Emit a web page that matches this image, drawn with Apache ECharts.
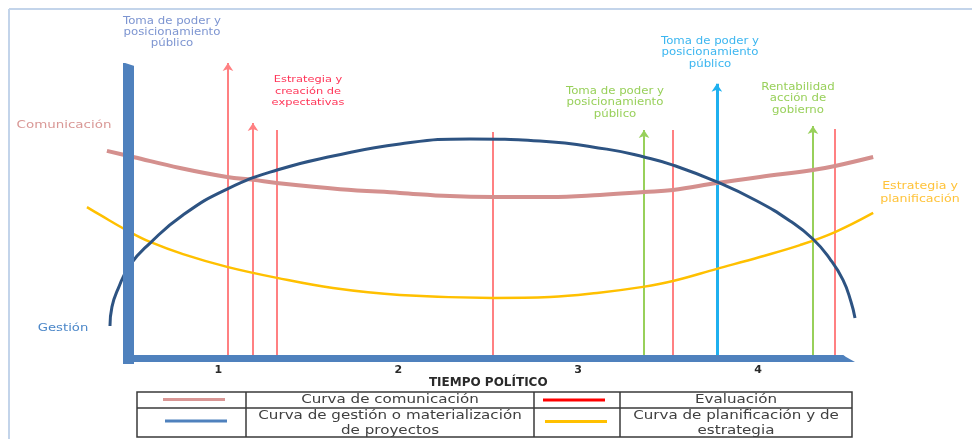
<!DOCTYPE html>
<html><head><meta charset="utf-8">
<script src="https://cdn.jsdelivr.net/npm/echarts@6/dist/echarts.min.js"></script>
<style>html,body{margin:0;padding:0;background:#fff}#c{width:972px;height:439px}</style>
</head><body><div id="c"></div>
<script>
// ---- data (x = tiempo político, 0..4 ; y = nivel, 0..100) ----
const tickLabels = ['1', '2', '3', '4'];

const comunicacionT     = [-0.120, 0.025, 0.286, 0.548, 0.692, 0.826, 1.176, 1.509, 1.787, 2.026, 2.343, 2.621, 2.866, 3.027, 3.271, 3.510, 3.805, 3.928, 4.140];
const comunicacionNivel = [71.6, 69.5, 65.7, 62.6, 61.6, 60.5, 58.4, 57.1, 56.0, 55.7, 55.7, 56.4, 57.4, 58.1, 60.5, 62.6, 65.0, 66.4, 69.5];

const gestionT     = [-0.103, -0.092, -0.058, 0.008, 0.120, 0.303, 0.548, 0.826, 1.137, 1.509, 1.898, 2.287, 2.659, 2.866, 3.027, 3.271, 3.494, 3.678, 3.805, 3.900, 3.972, 4.017, 4.039];
const gestionNivel = [11.2, 17.8, 24.0, 32.2, 39.8, 49.5, 58.4, 65.0, 69.8, 74.0, 75.7, 75.0, 72.2, 69.5, 66.7, 60.9, 54.3, 47.4, 41.2, 34.3, 27.1, 19.5, 14.0];

const planificacionT     = [-0.231, -0.158, 0.008, 0.120, 0.303, 0.548, 0.826, 1.137, 1.509, 2.026, 2.343, 2.605, 2.860, 3.027, 3.271, 3.510, 3.733, 3.928, 4.140];
const planificacionNivel = [52.2, 49.5, 43.6, 40.2, 36.0, 31.6, 27.8, 24.3, 21.9, 20.9, 21.2, 22.6, 24.7, 26.7, 30.9, 35.0, 39.1, 43.6, 50.2];

// hitos (líneas verticales)
const hitoT     = [0.553, 0.692, 0.826, 2.026, 2.866, 3.027, 3.271, 3.805, 3.928];
const hitoTope  = [101.9, 81.2, 78.8, 78.1, 78.8, 78.8, 94.7, 80.2, 79.1];
const hitoTipo  = ['evalFlecha', 'evalFlecha', 'eval', 'eval', 'verdeFlecha', 'eval', 'azulFlecha', 'verdeFlecha', 'eval'];
const hitoBase  = 0;

// ---- styles ----
const tipoColor = { eval: '#ff8082', evalFlecha: '#ff8082', verdeFlecha: '#98d05a', azulFlecha: '#1fb0ef' };
const tipoWidth = { eval: 2, evalFlecha: 2, verdeFlecha: 2, azulFlecha: 3 };

function pairs(xs, ys) { return xs.map((x, i) => [x, ys[i]]); }
function hitoData(arrow) {
  const out = [];
  hitoT.forEach((t, i) => {
    const isArrow = hitoTipo[i].indexOf('Flecha') >= 0;
    if (isArrow !== arrow) return;
    out.push({ coords: [[t, hitoBase], [t, hitoTope[i]]],
      lineStyle: { color: tipoColor[hitoTipo[i]], width: tipoWidth[hitoTipo[i]], opacity: 1 } });
  });
  return out;
}

const FONT = '"DejaVu Sans", Verdana, sans-serif';
const notes = [
  { lines: ['Toma de poder y', 'posicionamiento', 'público'], x: 172, y: 21, dy: 11, color: '#7d95d1', size: 9.8 },
  { lines: ['Estrategia y', 'creación de', 'expectativas'], x: 308, y: 80, dy: 11.5, color: '#ff3457', size: 9.5 },
  { lines: ['Toma de poder y', 'posicionamiento', 'público'], x: 615, y: 91, dy: 11.5, color: '#98d05a', size: 9.8 },
  { lines: ['Toma de poder y', 'posicionamiento', 'público'], x: 710, y: 41, dy: 11.5, color: '#3cb6f0', size: 9.8 },
  { lines: ['Rentabilidad', 'acción de', 'gobierno'], x: 798, y: 87, dy: 11.5, color: '#98d05a', size: 9.8 },
  { lines: ['Comunicación'], x: 64, y: 125, dy: 0, color: '#d99896', size: 11.2 },
  { lines: ['Gestión'], x: 63, y: 328, dy: 0, color: '#4a86c8', size: 11 },
  { lines: ['Estrategia y', 'planificación'], x: 920, y: 186, dy: 13, color: '#ffc33a', size: 10.5 }
];

const graphics = [];
// marco exterior
graphics.push({ type: 'line', shape: { x1: 9, y1: 9, x2: 972, y2: 9 }, style: { stroke: '#c3d4ea', lineWidth: 2 } });
graphics.push({ type: 'line', shape: { x1: 9, y1: 9, x2: 9, y2: 439 }, style: { stroke: '#c3d4ea', lineWidth: 2 } });
// bisel de los ejes (extremo derecho del eje X y parte superior del eje Y)
graphics.push({ type: 'polygon', z: 30, shape: { points: [[840, 355], [842.5, 355], [855, 362], [840, 362]] }, style: { fill: '#4f81bd' } });
graphics.push({ type: 'polygon', z: 30, shape: { points: [[122, 62], [136, 62], [136, 66.5]] }, style: { fill: '#ffffff' } });

function txt(s, x, y, color, size, sx, weight) {
  graphics.push({ type: 'text', x: x, y: y, scaleX: sx || 1.2, z: 20,
    style: { text: s, x: 0, y: 0, fill: color, font: (weight || 'normal') + ' ' + size + 'px ' + FONT,
      textAlign: 'center', textVerticalAlign: 'middle' } });
}
notes.forEach(n => n.lines.forEach((l, i) => txt(l, n.x, n.y + i * n.dy, n.color, n.size)));

// tabla de leyenda
const T = { x1: 137, x2: 852, y1: 392, ym: 408, y2: 437, c1: 246, c2: 534, c3: 620 };
const ls = { stroke: '#3a3a3a', lineWidth: 1.5 };
graphics.push({ type: 'rect', shape: { x: T.x1, y: T.y1, width: T.x2 - T.x1, height: T.y2 - T.y1 }, style: { fill: 'none', stroke: '#3a3a3a', lineWidth: 1.5 } });
graphics.push({ type: 'line', shape: { x1: T.x1, y1: T.ym, x2: T.x2, y2: T.ym }, style: ls });
[T.c1, T.c2, T.c3].forEach(c => graphics.push({ type: 'line', shape: { x1: c, y1: T.y1, x2: c, y2: T.y2 }, style: ls }));
const legendRows = [
  { color: '#d99694', sx: 163, y: 399.5, text: ['Curva de comunicación'], tx: 390 },
  { color: '#4f81bd', sx: 165, y: 421, text: ['Curva de gestión o materialización', 'de proyectos'], tx: 390 },
  { color: '#ff0000', sx: 543, y: 400, text: ['Evaluación'], tx: 736 },
  { color: '#ffc000', sx: 545, y: 421.5, text: ['Curva de planificación y de', 'estrategia'], tx: 736 }
];
legendRows.forEach(r => {
  graphics.push({ type: 'line', shape: { x1: r.sx, y1: r.y, x2: r.sx + 62, y2: r.y }, style: { stroke: r.color, lineWidth: 3 } });
  if (r.text.length === 1) txt(r.text[0], r.tx, 400, '#404040', 12.6, 1.2);
  else { txt(r.text[0], r.tx, 415.5, '#404040', 12.6, 1.2); txt(r.text[1], r.tx, 430.5, '#404040', 12.6, 1.2); }
});

// same scale in both grids: 179.875 px per unit of time, 2.9 px per unit of level
const chart = echarts.init(document.getElementById('c'), null, { renderer: 'canvas' });
chart.setOption({
  animation: false,
  backgroundColor: '#ffffff',
  grid: [
    { left: 128.5, right: 130, top: 68.5, bottom: 80.5, containLabel: false },
    { left: 83.53, right: 79.03, top: 39.5, bottom: 80.5, containLabel: false }
  ],
  xAxis: [{
    gridIndex: 0, type: 'value', min: 0, max: 3.9667, interval: 0.5, z: 10,
    axisLine: { show: true, lineStyle: { color: '#4f81bd', width: 7 } },
    axisTick: { show: false }, splitLine: { show: false },
    axisLabel: { margin: 6, color: '#2a2a2a', fontWeight: 'bold', fontSize: 11, fontFamily: FONT,
      formatter: v => { const k = Math.round(v * 2); return (k % 2 === 1) ? tickLabels[(k - 1) / 2] : ''; } },
    name: 'TIEMPO POLÍTICO', nameLocation: 'middle', nameGap: 18, nameMoveOverlap: false,
    nameTextStyle: { color: '#2a2a2a', fontWeight: 'bold', fontSize: 12, fontFamily: FONT, padding: [0, 0, 0, 6] }
  }, {
    gridIndex: 1, type: 'value', min: -0.25, max: 4.25, show: false
  }],
  yAxis: [{
    gridIndex: 0, type: 'value', min: 0, max: 100, z: 10,
    axisLine: { show: true, lineStyle: { color: '#4f81bd', width: 11, cap: 'square' } },
    axisTick: { show: false }, splitLine: { show: false }, axisLabel: { show: false }
  }, {
    gridIndex: 1, type: 'value', min: 0, max: 110, show: false
  }],
  series: [
    { name: 'Curva de planificación y de estrategia', type: 'line', xAxisIndex: 1, yAxisIndex: 1,
      data: pairs(planificacionT, planificacionNivel),
      smooth: 0.4, symbol: 'none', lineStyle: { color: '#ffc000', width: 2.5 }, z: 3 },
    { name: 'Curva de comunicación', type: 'line', xAxisIndex: 1, yAxisIndex: 1,
      data: pairs(comunicacionT, comunicacionNivel),
      smooth: 0.4, symbol: 'none', lineStyle: { color: '#d4908e', width: 4 }, z: 3 },
    { name: 'Curva de gestión', type: 'line', xAxisIndex: 1, yAxisIndex: 1,
      data: pairs(gestionT, gestionNivel),
      smooth: 0.5, symbol: 'none', lineStyle: { color: '#2d5382', width: 3 }, z: 4 },
    { name: 'Hitos', type: 'lines', coordinateSystem: 'cartesian2d', xAxisIndex: 1, yAxisIndex: 1, z: 2,
      symbol: 'none', data: hitoData(false) },
    { name: 'Hitos flecha', type: 'lines', coordinateSystem: 'cartesian2d', xAxisIndex: 1, yAxisIndex: 1, z: 2,
      symbol: ['none', 'arrow'], symbolSize: 8, data: hitoData(true) }
  ],
  graphic: { elements: graphics }
});
</script></body></html>
